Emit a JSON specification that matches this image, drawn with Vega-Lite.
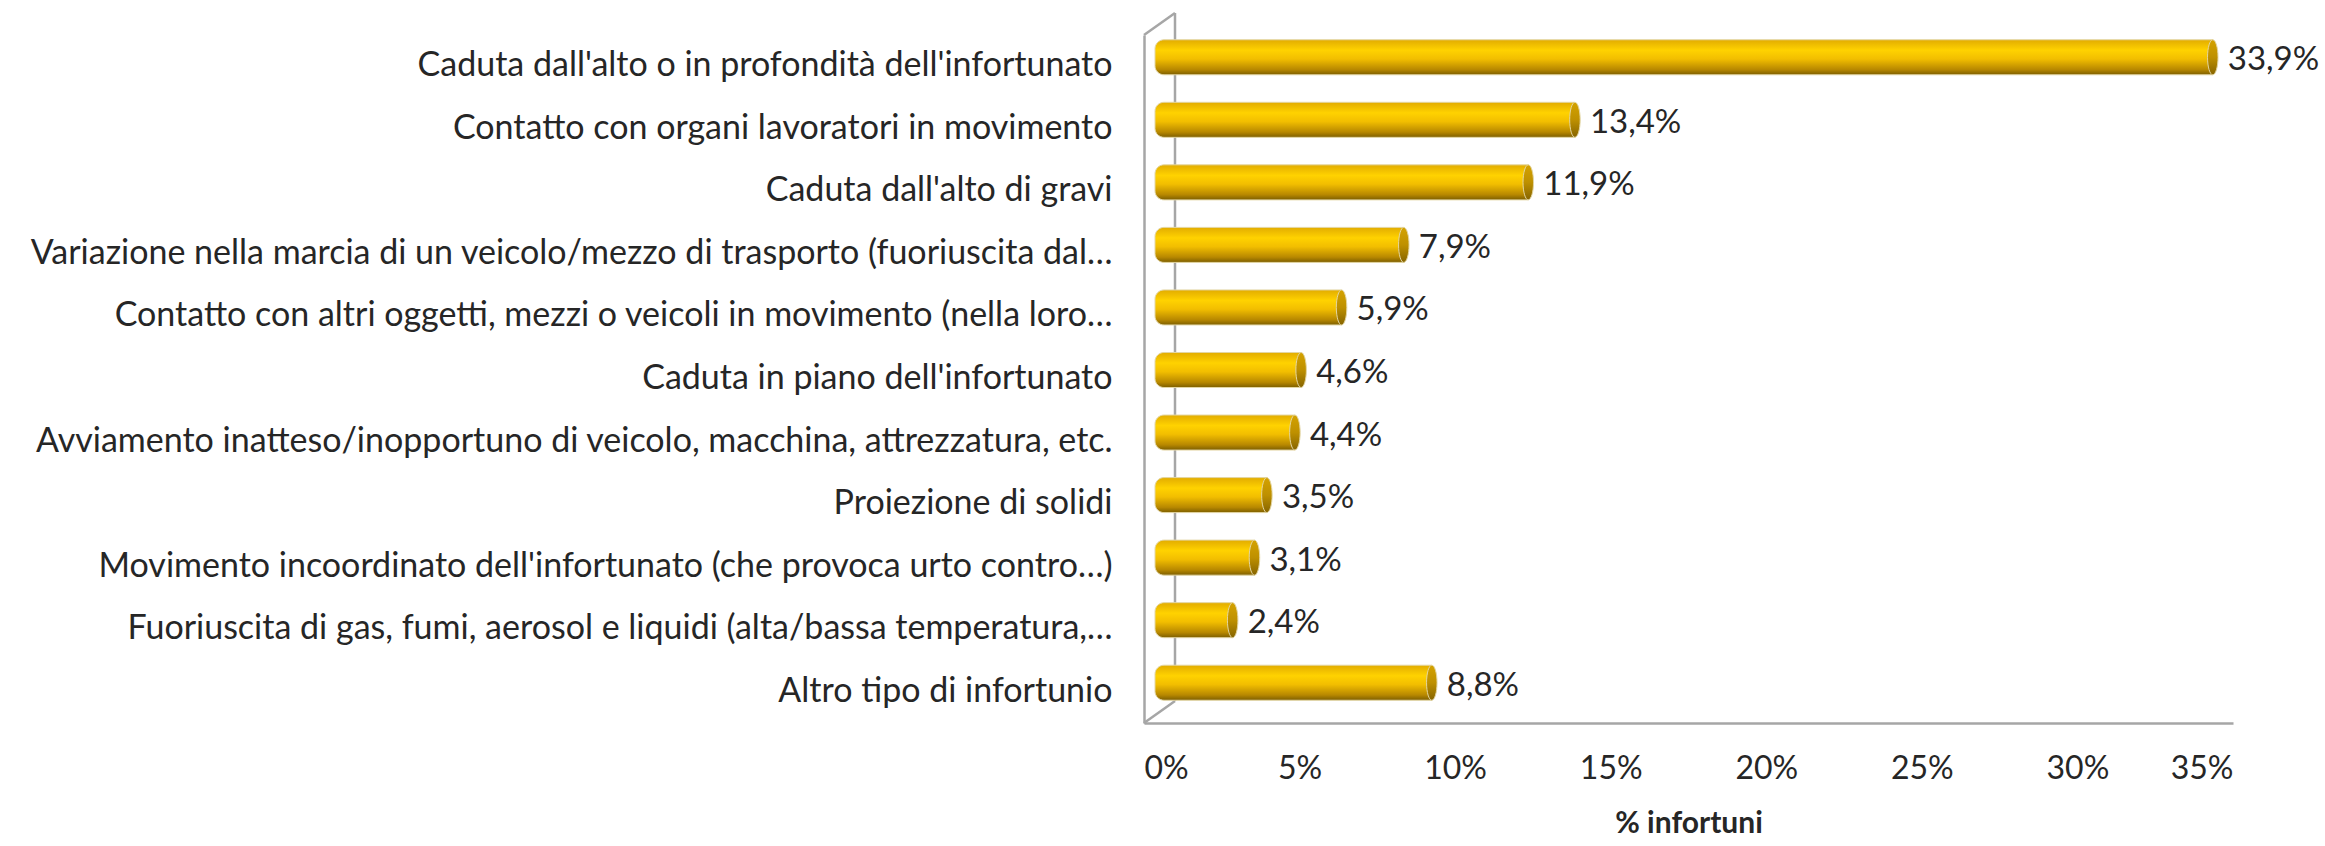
{
  "$schema": "https://vega.github.io/schema/vega-lite/v6.json",
  "width": 1089,
  "height": 688,
  "autosize": {"type": "none"},
  "padding": {"left": 1144, "top": 35, "right": 92, "bottom": 123},
  "background": "white",
  "config": {
    "view": {"stroke": null},
    "locale": {"number": {"decimal": ",", "thousands": ".", "grouping": [3], "currency": ["€", ""]}},
    "font": "Lato"
  },
  "data": {
    "values": [
      {"tipo": "Caduta dall'alto o in profondità dell'infortunato", "v": 0.339},
      {"tipo": "Contatto con organi lavoratori in movimento", "v": 0.134},
      {"tipo": "Caduta dall'alto di gravi", "v": 0.119},
      {"tipo": "Variazione nella marcia di un veicolo/mezzo di trasporto (fuoriuscita dal…", "v": 0.079},
      {"tipo": "Contatto con altri oggetti, mezzi o veicoli in movimento (nella loro…", "v": 0.059},
      {"tipo": "Caduta in piano dell'infortunato", "v": 0.046},
      {"tipo": "Avviamento inatteso/inopportuno di veicolo, macchina, attrezzatura, etc.", "v": 0.044},
      {"tipo": "Proiezione di solidi", "v": 0.035},
      {"tipo": "Movimento incoordinato dell'infortunato (che provoca urto contro…)", "v": 0.031},
      {"tipo": "Fuoriuscita di gas, fumi, aerosol e liquidi (alta/bassa temperatura,…", "v": 0.024},
      {"tipo": "Altro tipo di infortunio", "v": 0.088}
    ]
  },
  "resolve": {"scale": {"y": "independent"}},
  "layer": [
    {
      "data": {"values": [{}]},
      "layer": [
        {
          "mark": {"type": "rule", "color": "#A6A6A6", "strokeWidth": 2.5, "xOffset": 31, "x2Offset": 31, "yOffset": -22, "y2Offset": -22},
          "encoding": {
            "x": {"datum": 0, "type": "quantitative"},
            "x2": {"datum": 0},
            "y": {"datum": 0, "type": "quantitative", "scale": {"domain": [0, 1]}, "axis": null},
            "y2": {"datum": 1}
          }
        },
        {
          "mark": {"type": "rule", "color": "#A6A6A6", "strokeWidth": 2.5, "x2Offset": 31, "y2Offset": -22},
          "encoding": {
            "x": {"datum": 0, "type": "quantitative"},
            "x2": {"datum": 0},
            "y": {"datum": 0, "type": "quantitative", "scale": {"domain": [0, 1]}, "axis": null},
            "y2": {"datum": 0}
          }
        },
        {
          "mark": {"type": "rule", "color": "#A6A6A6", "strokeWidth": 2.5, "x2Offset": 31, "y2Offset": -22},
          "encoding": {
            "x": {"datum": 0, "type": "quantitative"},
            "x2": {"datum": 0},
            "y": {"datum": 1, "type": "quantitative", "scale": {"domain": [0, 1]}, "axis": null},
            "y2": {"datum": 1}
          }
        }
      ]
    },
    {
      "layer": [
        {
          "mark": {
            "type": "bar",
            "xOffset": 14,
            "x2Offset": 11,
            "yOffset": -9,
            "cornerRadiusTopLeft": 9,
            "cornerRadiusBottomLeft": 9,
            "stroke": "#E3D6A4",
            "strokeWidth": 1,
            "color": {
              "gradient": "linear", "x1": 0, "y1": 0, "x2": 0, "y2": 1,
              "stops": [
                {"offset": 0, "color": "#E2AC00"},
                {"offset": 0.3, "color": "#FFD200"},
                {"offset": 0.55, "color": "#F2BE00"},
                {"offset": 0.85, "color": "#B88800"},
                {"offset": 1, "color": "#7C5E00"}
              ]
            }
          },
          "encoding": {
            "y": {
              "field": "tipo", "type": "nominal", "sort": null,
              "scale": {"paddingInner": 0.44, "paddingOuter": 0.22},
              "axis": {
                "title": null, "ticks": false, "labelPadding": 32, "labelLimit": 1200,
                "labelFontSize": 34, "labelColor": "#262626", "labelFont": "Lato",
                "domainColor": "#A6A6A6", "domainWidth": 2.5
              }
            },
            "x": {
              "field": "v", "type": "quantitative",
              "scale": {"domain": [0, 0.35], "nice": false, "zero": true},
              "axis": {
                "values": [0, 0.05, 0.1, 0.15, 0.2, 0.25, 0.3, 0.35],
                "format": ".0%", "grid": false, "ticks": false,
                "labelPadding": 30, "labelFontSize": 32, "labelColor": "#262626", "labelFont": "Lato",
                "domainColor": "#A6A6A6", "domainWidth": 2.5,
                "title": "% infortuni", "titleFontSize": 30, "titleFontWeight": "bold",
                "titleColor": "#262626", "titlePadding": 24, "titleFont": "Lato"
              }
            },
            "x2": {"datum": 0}
          }
        },
        {
          "mark": {
            "type": "point",
            "filled": true,
            "opacity": 1,
            "xOffset": 14,
            "yOffset": -9,
            "size": 1225,
            "shape": "M0,-1 A0.3,1 0 1,1 0,1 A0.3,1 0 1,1 0,-1 Z",
            "stroke": "#E3D6A4",
            "strokeWidth": 1,
            "fill": {
              "gradient": "linear", "x1": 0, "y1": 0, "x2": 0, "y2": 1,
              "stops": [
                {"offset": 0, "color": "#D4A200"},
                {"offset": 0.5, "color": "#BE9000"},
                {"offset": 1, "color": "#866400"}
              ]
            }
          },
          "encoding": {
            "y": {"field": "tipo", "type": "nominal", "sort": null},
            "x": {"field": "v", "type": "quantitative"}
          }
        },
        {
          "mark": {
            "type": "text", "align": "left", "baseline": "middle",
            "xOffset": 29, "yOffset": -6, "fontSize": 33, "color": "#262626", "font": "Lato"
          },
          "encoding": {
            "y": {"field": "tipo", "type": "nominal", "sort": null},
            "x": {"field": "v", "type": "quantitative"},
            "text": {"field": "v", "type": "quantitative", "format": ".1%"}
          }
        }
      ]
    }
  ]
}
